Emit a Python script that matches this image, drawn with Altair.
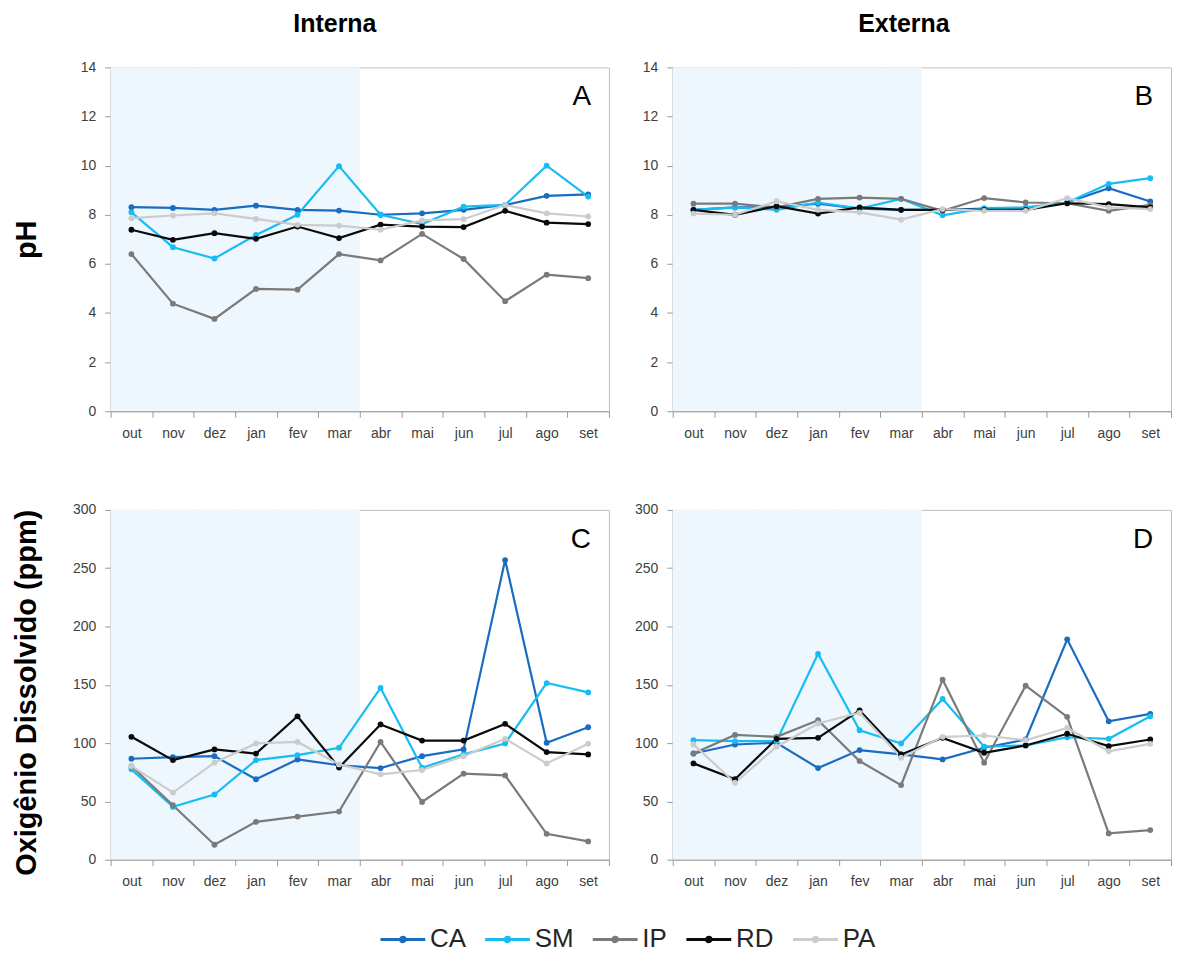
import altair as alt
import pandas as pd

months = ["out", "nov", "dez", "jan", "fev", "mar", "abr", "mai", "jun", "jul", "ago", "set"]
wet_months = months[:6]
sites = ["CA", "SM", "IP", "RD", "PA"]
colors = ["#1a6cc0", "#17bdf2", "#7a7a7a", "#0a0a0a", "#cccccc"]
panel_letters = ["A", "B", "C", "D"]
column_titles = ["Interna", "Externa"]
row_titles = ["pH", "Oxigênio Dissolvido (ppm)"]

# pH - Interna (A)
ph_int_CA = [8.31, 8.28, 8.20, 8.37, 8.20, 8.17, 8.00, 8.06, 8.20, 8.40, 8.77, 8.83]
ph_int_SM = [8.10, 6.68, 6.22, 7.18, 8.00, 9.98, 8.00, 7.62, 8.33, 8.40, 10.00, 8.74]
ph_int_IP = [6.40, 4.38, 3.76, 4.98, 4.95, 6.40, 6.14, 7.22, 6.20, 4.48, 5.56, 5.42]
ph_int_RD = [7.39, 6.98, 7.25, 7.02, 7.52, 7.05, 7.60, 7.52, 7.50, 8.16, 7.68, 7.62]
ph_int_PA = [7.86, 7.97, 8.06, 7.83, 7.59, 7.56, 7.39, 7.77, 7.82, 8.40, 8.06, 7.93]

# pH - Externa (B)
ph_ext_CA = [8.20, 8.30, 8.30, 8.45, 8.25, 8.20, 8.20, 8.25, 8.25, 8.50, 9.08, 8.54]
ph_ext_SM = [8.20, 8.30, 8.20, 8.50, 8.25, 8.65, 7.98, 8.27, 8.30, 8.50, 9.26, 9.49]
ph_ext_IP = [8.45, 8.45, 8.30, 8.65, 8.70, 8.65, 8.16, 8.68, 8.50, 8.47, 8.16, 8.40]
ph_ext_RD = [8.20, 8.00, 8.35, 8.05, 8.30, 8.20, 8.20, 8.20, 8.20, 8.47, 8.43, 8.30]
ph_ext_PA = [8.05, 8.00, 8.55, 8.20, 8.10, 7.80, 8.23, 8.16, 8.16, 8.68, 8.30, 8.23]

# Oxigenio Dissolvido - Interna (C)
od_int_CA = [86.6, 88.0, 88.8, 69.0, 86.0, 81.0, 78.6, 88.8, 94.6, 257.0, 100.3, 113.6]
od_int_SM = [77.5, 45.3, 55.9, 85.4, 89.7, 96.0, 147.3, 78.9, 90.3, 99.7, 151.5, 143.5]
od_int_IP = [80.3, 46.7, 12.8, 32.5, 37.0, 41.3, 101.0, 49.5, 73.8, 72.3, 22.2, 15.7]
od_int_RD = [105.4, 85.4, 94.6, 91.0, 123.0, 79.0, 116.0, 102.2, 102.2, 116.5, 92.3, 90.3]
od_int_PA = [80.3, 57.6, 83.2, 99.7, 101.0, 81.7, 73.2, 76.9, 88.8, 103.7, 82.6, 99.4]

# Oxigenio Dissolvido - Externa (D)
od_ext_CA = [91.1, 98.8, 100.3, 78.6, 94.0, 90.3, 86.0, 96.0, 103.1, 189.0, 118.7, 125.0]
od_ext_SM = [102.5, 101.7, 101.7, 176.6, 111.0, 99.7, 137.9, 96.9, 98.0, 105.0, 103.7, 123.0]
od_ext_IP = [91.0, 107.0, 105.4, 119.6, 84.6, 64.0, 154.4, 83.2, 149.2, 122.5, 22.5, 25.4]
od_ext_RD = [82.6, 69.0, 103.7, 104.5, 128.0, 90.3, 104.5, 91.7, 98.0, 108.0, 97.4, 103.1]
od_ext_PA = [98.8, 66.0, 96.9, 116.8, 126.0, 87.5, 105.4, 106.5, 102.5, 113.0, 93.0, 99.4]

FONT = "Liberation Sans"
SHADE = "#eef7fd"


def long_df(series_list):
    rows = []
    for site, vals in zip(sites, series_list):
        for m, v in zip(months, vals):
            rows.append({"month": m, "site": site, "value": v})
    return pd.DataFrame(rows)


shade_df = pd.DataFrame({"month": wet_months})


def panel(series_list, ymax, ystep, h, letter, ctitle=None, rtitle=None, tdx=-25, title_y=None):
    df = long_df(series_list)
    xscale = alt.Scale(domain=months, paddingInner=0, paddingOuter=0)
    xaxis = alt.Axis(title=None, tickBand="extent", labelAngle=0, labelFontSize=14,
                     labelColor="#404040", labelFont=FONT, domainColor="#9a9a9a",
                     tickColor="#9a9a9a", tickSize=6, labelPadding=9,
                     minExtent=25, maxExtent=25)
    yaxis_kw = dict(values=list(range(0, ymax + 1, ystep)), grid=False, labelFontSize=14,
                    labelColor="#404040", labelFont=FONT, domainColor="#9a9a9a",
                    tickColor="#9a9a9a", tickSize=6, labelPadding=9,
                    minExtent=30, maxExtent=30)
    if rtitle:
        tkw = dict(title=rtitle, titleFontSize=29, titleFont=FONT, titleFontWeight="bold",
                   titleColor="#000000", titlePadding=39)
        if title_y is not None:
            tkw["titleY"] = title_y
        yaxis = alt.Axis(**tkw, **yaxis_kw)
    else:
        yaxis = alt.Axis(title=None, **yaxis_kw)

    shade = alt.Chart(shade_df).mark_rect(color=SHADE).encode(
        x=alt.X("month:O", scale=xscale, axis=xaxis, sort=months)
    )
    lines = alt.Chart(df).mark_line(
        strokeWidth=2.2,
        point=alt.OverlayMarkDef(size=34, filled=True, opacity=1),
    ).encode(
        x=alt.X("month:O", scale=xscale, axis=xaxis, sort=months),
        y=alt.Y("value:Q", scale=alt.Scale(domain=[0, ymax], nice=False), axis=yaxis),
        color=alt.Color(
            "site:N",
            scale=alt.Scale(domain=sites, range=colors),
            legend=alt.Legend(
                title=None, orient="none", direction="horizontal", columns=5,
                legendX=269, legendY=862,
                labelFontSize=26, labelFont=FONT, labelColor="#262626",
                symbolType="M-1,0L3,0M1.2,0A0.2,0.2,0,1,1,0.8,0A0.2,0.2,0,1,1,1.2,0",
                symbolSize=506, symbolStrokeWidth=3, labelOffset=25.5, columnPadding=12,
            ),
        ),
        order=alt.Order("site_order:Q"),
    ).transform_calculate(
        site_order="indexof(['CA','SM','IP','RD','PA'], datum.site)"
    )
    label = alt.Chart(pd.DataFrame({"t": [letter]})).mark_text(
        align="right", baseline="alphabetic", fontSize=28, font=FONT, color="#000000"
    ).encode(text="t:N", x=alt.value(500 - 18), y=alt.value(38))

    props = dict(width=500, height=h)
    if ctitle:
        props["title"] = alt.TitleParams(ctitle, fontSize=25, font=FONT, fontWeight="bold",
                                         color="#000000", anchor="middle", dx=tdx, offset=24)
    return alt.layer(shade, lines, label).properties(**props)


A = panel([ph_int_CA, ph_int_SM, ph_int_IP, ph_int_RD, ph_int_PA], 14, 2, 345,
          panel_letters[0], column_titles[0], row_titles[0], tdx=-25)
B = panel([ph_ext_CA, ph_ext_SM, ph_ext_IP, ph_ext_RD, ph_ext_PA], 14, 2, 345,
          panel_letters[1], column_titles[1], None, tdx=-18)
C = panel([od_int_CA, od_int_SM, od_int_IP, od_int_RD, od_int_PA], 300, 50, 351,
          panel_letters[2], None, row_titles[1], title_y=183)
D = panel([od_ext_CA, od_ext_SM, od_ext_IP, od_ext_RD, od_ext_PA], 300, 50, 351,
          panel_letters[3], None, None)

chart = alt.concat(A, B, C, D, columns=2, spacing={"row": 61, "column": 24}).configure_view(
    stroke="#c0c0c0", strokeWidth=1
).properties(
    padding={"left": 4, "top": 1, "right": 0, "bottom": 0}
)

chart.save("out.html", embed_options={"renderer": "svg", "actions": False})
